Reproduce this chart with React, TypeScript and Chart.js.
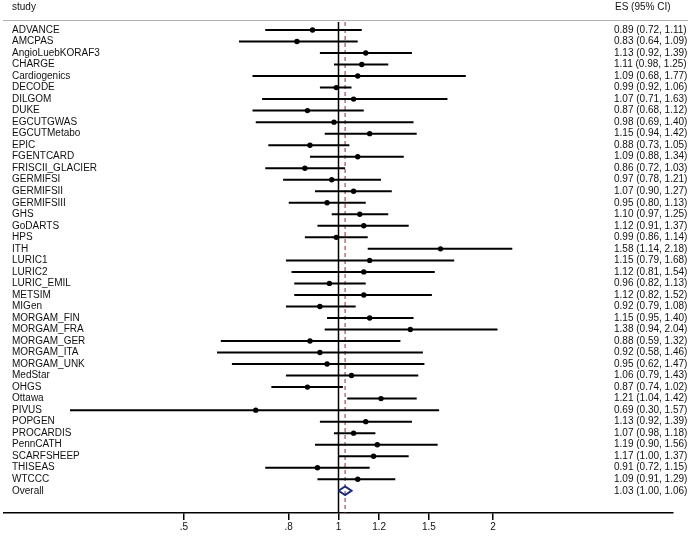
import React, { useEffect, useRef } from "react";
import { Chart, registerables } from "chart.js";

Chart.register(...registerables);

const studies = [
  "ADVANCE", "AMCPAS", "AngioLuebKORAF3", "CHARGE", "Cardiogenics", "DECODE", "DILGOM", "DUKE",
  "EGCUTGWAS", "EGCUTMetabo", "EPIC", "FGENTCARD", "FRISCII_GLACIER", "GERMIFSI", "GERMIFSII",
  "GERMIFSIII", "GHS", "GoDARTS", "HPS", "ITH", "LURIC1", "LURIC2", "LURIC_EMIL", "METSIM", "MIGen",
  "MORGAM_FIN", "MORGAM_FRA", "MORGAM_GER", "MORGAM_ITA", "MORGAM_UNK", "MedStar", "OHGS", "Ottawa",
  "PIVUS", "POPGEN", "PROCARDIS", "PennCATH", "SCARFSHEEP", "THISEAS", "WTCCC",
];
const es = [
  0.89, 0.83, 1.13, 1.11, 1.09, 0.99, 1.07, 0.87, 0.98, 1.15, 0.88, 1.09, 0.86, 0.97, 1.07, 0.95,
  1.10, 1.12, 0.99, 1.58, 1.15, 1.12, 0.96, 1.12, 0.92, 1.15, 1.38, 0.88, 0.92, 0.95, 1.06, 0.87,
  1.21, 0.69, 1.13, 1.07, 1.19, 1.17, 0.91, 1.09,
];
const lo = [
  0.72, 0.64, 0.92, 0.98, 0.68, 0.92, 0.71, 0.68, 0.69, 0.94, 0.73, 0.88, 0.72, 0.78, 0.90, 0.80,
  0.97, 0.91, 0.86, 1.14, 0.79, 0.81, 0.82, 0.82, 0.79, 0.95, 0.94, 0.59, 0.58, 0.62, 0.79, 0.74,
  1.04, 0.30, 0.92, 0.98, 0.90, 1.00, 0.72, 0.91,
];
const hi = [
  1.11, 1.09, 1.39, 1.25, 1.77, 1.06, 1.63, 1.12, 1.40, 1.42, 1.05, 1.34, 1.03, 1.21, 1.27, 1.13,
  1.25, 1.37, 1.14, 2.18, 1.68, 1.54, 1.13, 1.52, 1.08, 1.40, 2.04, 1.32, 1.46, 1.47, 1.43, 1.02,
  1.42, 1.57, 1.39, 1.18, 1.56, 1.37, 1.15, 1.29,
];
const overallLabel = "Overall";
const overallES = 1.03;
const overallLo = 1.0;
const overallHi = 1.06;
const xTickValues = [0.5, 0.8, 1, 1.2, 1.5, 2];
const xTickLabels = [".5", ".8", "1", "1.2", "1.5", "2"];
const headerLeft = "study";
const headerRight = "ES (95% CI)";

const FONT = '"Liberation Sans", Arial, sans-serif';

export default function App() {
  const ref = useRef<HTMLCanvasElement | null>(null);

  useEffect(() => {
    document.body.style.margin = "0";
    const canvas = ref.current!;
    const nRows = studies.length + 1;
    const overallRow = studies.length;

    const datasets: any[] = [];
    studies.forEach((_, i) => {
      datasets.push({
        type: "line",
        data: [
          { x: lo[i], y: i },
          { x: hi[i], y: i },
        ],
        borderColor: "#000",
        borderWidth: 2,
        pointRadius: 0,
        fill: false,
      });
    });
    datasets.push({
      type: "scatter",
      data: studies.map((_, i) => ({ x: es[i], y: i })),
      backgroundColor: "#000",
      borderColor: "#000",
      pointRadius: 2.7,
      pointBorderWidth: 0,
    });
    const dh = 0.37;
    datasets.push({
      type: "line",
      data: [
        { x: overallLo, y: overallRow },
        { x: overallES, y: overallRow - dh },
        { x: overallHi, y: overallRow },
        { x: overallES, y: overallRow + dh },
        { x: overallLo, y: overallRow },
      ],
      borderColor: "#1c2a7e",
      borderWidth: 2,
      pointRadius: 0,
      fill: false,
      tension: 0,
      borderJoinStyle: "miter",
    });

    const textPlugin = {
      id: "forestText",
      beforeDatasetsDraw(chart: any) {
        const { ctx, chartArea, scales } = chart;
        const xs = scales.x;
        ctx.save();
        const x1 = xs.getPixelForValue(1);
        ctx.strokeStyle = "#000";
        ctx.lineWidth = 1.5;
        ctx.beginPath();
        ctx.moveTo(x1, chartArea.top);
        ctx.lineTo(x1, chartArea.bottom);
        ctx.stroke();
        const xo = xs.getPixelForValue(overallES);
        ctx.strokeStyle = "#a3202c";
        ctx.lineWidth = 1;
        ctx.setLineDash([4, 3]);
        ctx.beginPath();
        ctx.moveTo(xo, chartArea.top);
        ctx.lineTo(xo, chartArea.bottom);
        ctx.stroke();
        ctx.restore();
      },
      afterDraw(chart: any) {
        const { ctx, scales } = chart;
        const ys = scales.y;
        ctx.save();
        ctx.font = `10px ${FONT}`;
        ctx.fillStyle = "#111";
        ctx.textBaseline = "middle";
        ctx.textAlign = "left";
        ctx.fillText(headerLeft, 12, 7);
        ctx.fillText(headerRight, 615, 7);
        ctx.strokeStyle = "#b0b0b0";
        ctx.lineWidth = 1;
        ctx.beginPath();
        ctx.moveTo(3, 20.5);
        ctx.lineTo(688, 20.5);
        ctx.stroke();
        const fmt = (v: number) => v.toFixed(2);
        const rowsL = [...studies, overallLabel];
        const rowsE = [...es, overallES];
        const rowsLo = [...lo, overallLo];
        const rowsHi = [...hi, overallHi];
        rowsL.forEach((s, i) => {
          ctx.fillText(s, 12, ys.getPixelForValue(i));
        });
        rowsL.forEach((_, i) => {
          const t = `${fmt(rowsE[i])} (${fmt(rowsLo[i])}, ${fmt(rowsHi[i])})`;
          ctx.fillText(t, 614, ys.getPixelForValue(i));
        });
        ctx.restore();
      },
    };

    const chart = new Chart(canvas, {
      type: "scatter",
      data: { datasets },
      options: {
        responsive: false,
        animation: false,
        layout: { padding: { left: 3, right: 16, top: 22, bottom: 5 } },
        plugins: { legend: { display: false }, tooltip: { enabled: false } },
        scales: {
          x: {
            type: "logarithmic",
            min: Math.exp(-1.5),
            max: Math.exp(1.5),
            afterBuildTicks: (scale: any) => {
              scale.ticks = xTickValues.map((v) => ({ value: v }));
            },
            ticks: {
              autoSkip: false,
              maxRotation: 0,
              padding: 1,
              color: "#111",
              font: { size: 10, family: FONT },
              callback: (v: any) => {
                const idx = xTickValues.indexOf(Number(v));
                return idx >= 0 ? xTickLabels[idx] : "";
              },
            },
            grid: {
              drawOnChartArea: false,
              drawTicks: true,
              tickLength: 7,
              color: "#000",
              lineWidth: 1.5,
            },
            border: { display: true, color: "#000", width: 1.5 },
          },
          y: {
            type: "linear",
            display: false,
            reverse: true,
            min: -0.693,
            max: nRows - 1 + 1.93,
          },
        },
      },
      plugins: [textPlugin],
    } as any);

    return () => chart.destroy();
  }, []);

  return <canvas ref={ref} width={689} height={539} style={{ display: "block" }} />;
}
